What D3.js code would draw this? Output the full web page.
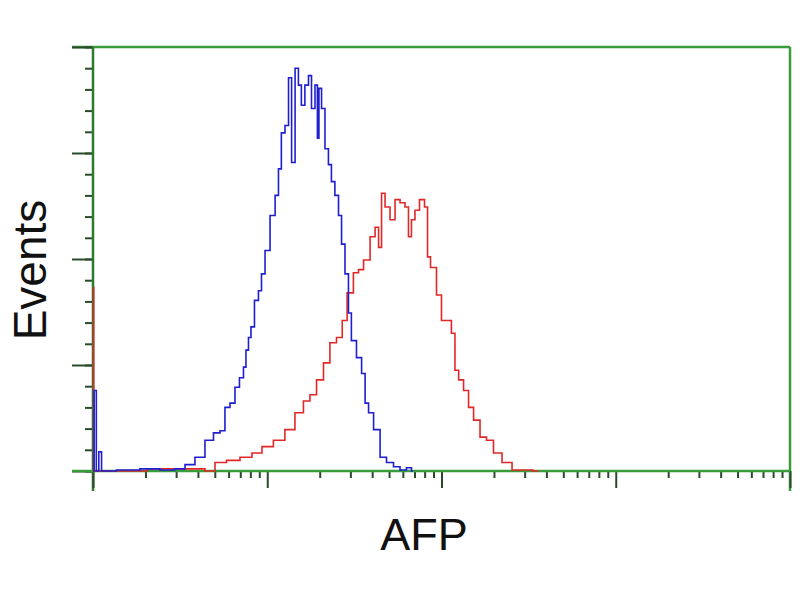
<!DOCTYPE html>
<html>
<head>
  <meta charset="utf-8">
  <title>AFP histogram</title>
  <script src="https://d3js.org/d3.v7.min.js"></script>
  <style>
    body { margin: 0; background: #fff; }
  </style>
</head>
<body>
<svg id="chart"></svg>
<script>
// fluorescence (log scale) vs events
const blueX = [1.0, 1.03, 1.06, 1.1, 1.14, 1.63, 2.12, 2.76, 3.16, 3.6, 4.11, 4.69, 5.15, 5.57, 5.87, 6.36, 6.7, 7.16, 7.45, 7.65, 7.96, 8.17, 8.73, 9.08, 9.46, 9.97, 10.8, 11.4, 11.8, 12.3, 13.0, 13.5, 14.1, 14.8, 15.4, 16.0, 16.9, 17.6, 18.3, 19.3, 19.5, 20.1, 20.9, 22.0, 22.9, 23.8, 25.1, 26.2, 27.2, 28.7, 29.8, 31.0, 34.1, 35.5, 37.4, 38.9, 42.7, 46.2, 50.6, 55.6, 60.1, 65.9, 68.6];
const blueY = [0, 76, 0, 18, 0, 1, 2, 1, 2, 6, 13, 29, 36, 38, 60, 64, 79, 88, 98, 114, 126, 136, 161, 170, 186, 208, 241, 260, 285, 319, 326, 371, 291, 380, 364, 345, 364, 373, 342, 364, 314, 361, 342, 304, 289, 273, 260, 241, 214, 186, 149, 123, 107, 92, 64, 55, 39, 13, 8, 4, 1, 3, 0];

const redX = [1.0, 1.02, 4.11, 4.69, 5.36, 6.36, 7.65, 8.73, 9.97, 11.8, 13.5, 15.4, 16.9, 18.3, 20.1, 22.0, 23.8, 26.2, 27.7, 29.8, 32.7, 34.1, 37.4, 40.5, 42.7, 44.4, 46.2, 48.7, 52.7, 55.6, 60.1, 63.4, 65.9, 68.6, 72.3, 77.3, 82.6, 83.7, 89.4, 98, 102, 112, 116, 123, 128, 140, 146, 160, 173, 190, 208, 238, 271, 310, 360];
const redY = [173, 0, 2, 0, 8, 10, 13, 17, 23, 29, 39, 55, 66, 72, 86, 102, 121, 126, 142, 168, 187, 190, 199, 221, 230, 211, 262, 249, 237, 256, 253, 249, 221, 237, 246, 256, 249, 202, 192, 166, 142, 142, 130, 95, 86, 76, 60, 48, 32, 29, 17, 8, 1, 1, 0];

const yMajor = [0, 100, 200, 300, 400];
const yMinor = d3.range(0, 401, 20);
const xMajor = [1, 10, 100, 1000, 10000];

const width = 800, height = 600;
const svg = d3.select("#chart").attr("width", width).attr("height", height);

const x = d3.scaleLog().domain([1, 10000]).range([93, 790]);
const y = d3.scaleLinear().domain([0, 400]).range([471, 47]);

const xMinor = [];
xMajor.slice(0, -1).forEach(d => { for (let k = 2; k <= 9; k++) xMinor.push(d * k); });

const green = "#3a9c3a";
const tickCol = "#2a4a2a";

// frame
svg.append("line").attr("x1", 72).attr("x2", 790).attr("y1", 47).attr("y2", 47)
  .attr("stroke", green).attr("stroke-width", 2.5);
svg.append("line").attr("x1", 790).attr("x2", 790).attr("y1", 47).attr("y2", 491)
  .attr("stroke", green).attr("stroke-width", 2.5);

// y axis
svg.append("g").attr("transform", "translate(93,0)")
  .call(d3.axisLeft(y).tickValues(yMinor).tickSize(8).tickFormat(""))
  .call(g => g.select(".domain").remove())
  .call(g => g.selectAll("line").attr("stroke", tickCol).attr("stroke-width", 2));
svg.append("g").attr("transform", "translate(93,0)")
  .call(d3.axisLeft(y).tickValues(yMajor).tickSize(21).tickFormat(""))
  .call(g => g.select(".domain").remove())
  .call(g => g.selectAll("line").attr("stroke", tickCol).attr("stroke-width", 2));
svg.append("line").attr("x1", 93).attr("x2", 93).attr("y1", 47).attr("y2", 491)
  .attr("stroke", "#2d7a30").attr("stroke-width", 2.5);

// x axis
svg.append("g").attr("transform", "translate(0,471)")
  .call(d3.axisBottom(x).tickValues(xMinor).tickSize(7).tickFormat(""))
  .call(g => g.select(".domain").remove())
  .call(g => g.selectAll("line").attr("stroke", tickCol).attr("stroke-width", 2));
svg.append("g").attr("transform", "translate(0,471)")
  .call(d3.axisBottom(x).tickValues(xMajor).tickSize(17).tickFormat(""))
  .call(g => g.select(".domain").remove())
  .call(g => g.selectAll("line").attr("stroke", tickCol).attr("stroke-width", 2));
svg.append("line").attr("x1", 72).attr("x2", 790).attr("y1", 471).attr("y2", 471)
  .attr("stroke", green).attr("stroke-width", 2.5);

// histograms
const line = d3.line().x(d => x(d[0])).y(d => y(d[1])).curve(d3.curveStep);
svg.append("path").datum(d3.zip(redX, redY))
  .attr("d", line).attr("fill", "none").attr("stroke", "#e02828").attr("stroke-width", 1.6);
svg.append("path").datum(d3.zip(blueX, blueY))
  .attr("d", line).attr("fill", "none").attr("stroke", "#1f1fd0").attr("stroke-width", 1.6);

// labels
svg.append("text")
  .attr("text-anchor", "middle")
  .attr("transform", "translate(46,270) rotate(-90)")
  .attr("font-family", "Liberation Sans, Arial, sans-serif")
  .attr("font-size", 46)
  .attr("fill", "#111")
  .text("Events");
svg.append("text")
  .attr("text-anchor", "middle")
  .attr("x", 424).attr("y", 550)
  .attr("font-family", "Liberation Sans, Arial, sans-serif")
  .attr("font-size", 45)
  .attr("fill", "#111")
  .text("AFP");
</script>
</body>
</html>
